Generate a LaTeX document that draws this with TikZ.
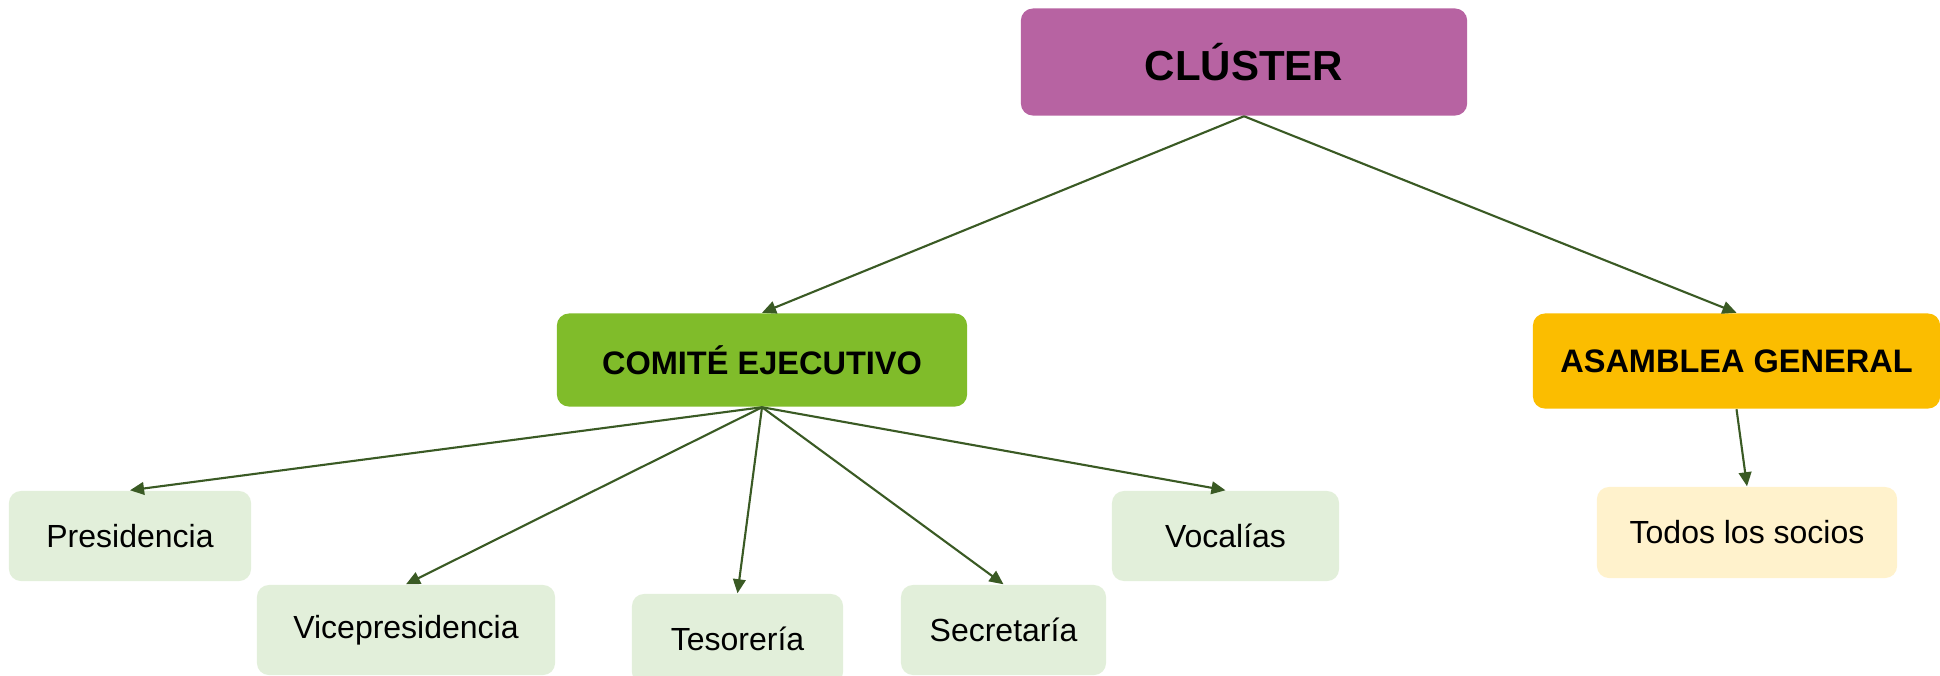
\documentclass[tikz,border=0pt]{standalone}
\usepackage{fontspec}
\setmainfont{Liberation Sans}
\usetikzlibrary{arrows.meta}

\definecolor{clusterpink}{HTML}{B763A2}
\definecolor{comitegreen}{HTML}{80BC2A}
\definecolor{asambleagold}{HTML}{FBBD00}
\definecolor{leafgreen}{HTML}{E2EFDA}
\definecolor{leafcream}{HTML}{FFF2CC}
\definecolor{linkgreen}{HTML}{3A5A24}

\begin{document}
\begin{tikzpicture}[
x=0.01cm, y=-0.01cm,
box/.style={
    rounded corners=0.12cm,
    inner sep=0pt,
    align=center,
    text=black
    },
head/.style={box, font=\fontsize{9.25}{11}\selectfont\bfseries},
leaf/.style={box, fill=leafgreen, minimum height=0.9cm, font=\fontsize{9.1}{11}\selectfont},
link/.style={-{Triangle[length=4pt,width=3.6pt]}, draw=linkgreen, line width=0.6pt}
]
\useasboundingbox (0,0) rectangle (1940,675);

\node[box, fill=clusterpink, minimum width=4.46cm, minimum height=1.07cm,
      font=\fontsize{11.95}{14}\selectfont\bfseries] (cluster) at (1244,62) {CLÚSTER};
\node[head, fill=comitegreen, minimum width=4.10cm, minimum height=0.93cm] (comite) at (762,360) {COMITÉ EJECUTIVO};
\node[head, fill=asambleagold, minimum width=4.07cm, minimum height=0.95cm] (asamblea) at (1736.5,361) {ASAMBLEA GENERAL};

\node[leaf, minimum width=2.42cm] (presi) at (130,536) {Presidencia};
\node[leaf, minimum width=2.98cm] (vicepresi) at (406,630) {Vicepresidencia};
\node[leaf, minimum width=2.11cm] (tesor) at (737.5,639) {Tesorería};
\node[leaf, minimum width=2.05cm] (secre) at (1003.5,630) {Secretaría};
\node[leaf, minimum width=2.27cm] (vocal) at (1225.5,536) {Vocalías};
\node[leaf, fill=leafcream, minimum width=3.00cm, minimum height=0.91cm] (socios) at (1747,532.5) {Todos los socios};

\draw[link] (cluster.south) -- (comite.north);
\draw[link] (cluster.south) -- (asamblea.north);
\foreach \n in {presi,vicepresi,tesor,secre,vocal}
    \draw[link] (comite.south) -- (\n.north);
\draw[link] (asamblea.south) -- (socios.north);

\end{tikzpicture}
\end{document}
